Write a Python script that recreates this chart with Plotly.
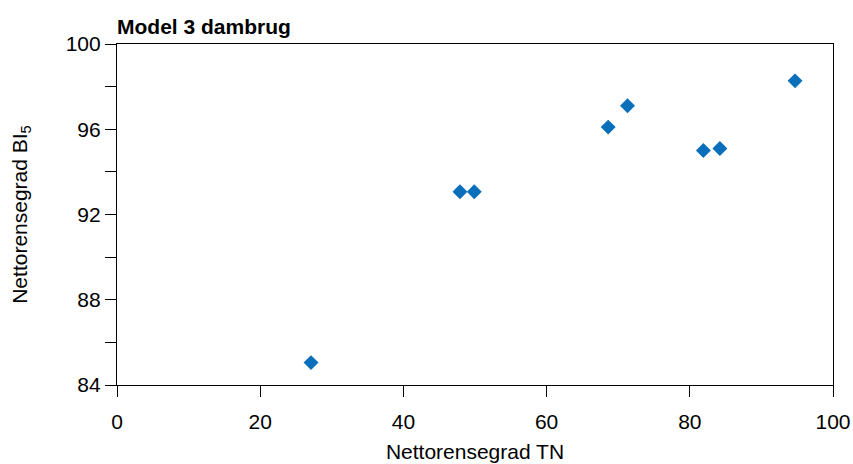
import plotly.graph_objects as go

# Net removal efficiency, fish farm model 3
tn_removal = [27.1, 47.9, 49.9, 68.6, 71.3, 81.9, 84.2, 94.7]
bi5_removal = [85.05, 93.07, 93.07, 96.1, 97.1, 95.0, 95.1, 98.27]

title_text = "Model 3 dambrug"
x_title = "Nettorensegrad TN"
y_title = "Nettorensegrad BI<sub>5</sub>"

font_family = "Liberation Sans, Arial, sans-serif"
axis_color = "#000000"
font_size = 21

fig = go.Figure(
    go.Scatter(
        x=tn_removal,
        y=bi5_removal,
        mode="markers",
        marker=dict(symbol="diamond", size=11.5, color="#0a6fba", line=dict(width=0)),
        showlegend=False,
    )
)

axis_common = dict(
    showline=True,
    linecolor=axis_color,
    linewidth=1.2,
    mirror=True,
    ticks="outside",
    ticklen=11,
    tickwidth=1.2,
    tickcolor=axis_color,
    showgrid=False,
    zeroline=False,
    automargin=False,
    tickfont=dict(family=font_family, size=font_size, color="#000000"),
)

fig.update_xaxes(
    range=[0, 100],
    tickmode="linear",
    tick0=0,
    dtick=20,
    ticklabelstandoff=7,
    title=dict(text=x_title, font=dict(family=font_family, size=font_size, color="#000000"), standoff=12),
    **axis_common,
)
fig.update_yaxes(
    range=[84, 100],
    tickmode="linear",
    tick0=84,
    dtick=4,
    minor=dict(dtick=2, tick0=84, ticks="outside", ticklen=11, tickwidth=1.2, tickcolor=axis_color),
    title=dict(text=y_title, font=dict(family=font_family, size=font_size, color="#000000"), standoff=32),
    **axis_common,
)

fig.update_layout(
    width=853,
    height=464,
    margin=dict(l=117, r=20, t=44, b=79),
    paper_bgcolor="white",
    plot_bgcolor="white",
    title=dict(
        text="<b>" + title_text + "</b>",
        font=dict(family=font_family, size=font_size, color="#000000"),
        xref="paper",
        x=0,
        xanchor="left",
        yref="container",
        y=1 - 27 / 464,
        yanchor="middle",
        pad=dict(l=0, t=0, b=0),
    ),
)

fig.write_html("out.html")
